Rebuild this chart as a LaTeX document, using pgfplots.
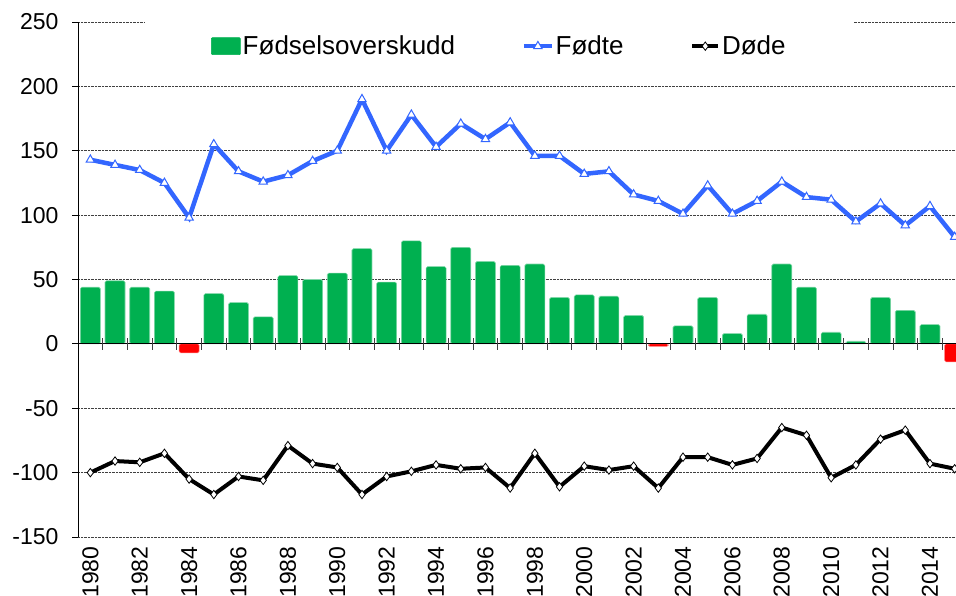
\documentclass[border=0pt]{standalone}
\usepackage{pgfplots}
\pgfplotsset{compat=1.18}
\usepackage{fontspec}
\setmainfont{Liberation Sans}
\definecolor{barg}{RGB}{0,176,80}
\definecolor{barr}{RGB}{255,0,0}
\definecolor{lblue}{RGB}{51,102,255}
\begin{document}
\begin{tikzpicture}[x=1pt,y=1pt]
\begin{axis}[
  at={(0pt,0pt)}, anchor=south west,
  scale only axis, width=889pt, height=515pt,
  xmin=1979.5, xmax=2015.5, ymin=-150, ymax=250,
  ytick={-150,-100,...,250},
  xtick={1980,1982,...,2014},
  axis y line*=left, axis x line*=bottom,
  x axis line style={draw=none},
  y axis line style={black, line width=0.8pt, -},
  xtick style={draw=none},
  ytick style={black, line width=0.8pt},
  tick align=outside, major tick length=6pt,
  ymajorgrids,
  grid style={densely dotted, black!75, line width=0.9pt},
  ticklabel style={font=\fontsize{23}{27}\selectfont},
  xticklabel style={rotate=90, anchor=east},
  xticklabel shift=0pt,
  yticklabel style={xshift=-10pt},
  /pgf/number format/assume math mode=true,
  /pgf/number format/1000 sep={},
  legend columns=3,
  legend style={at={(0.474,0.953)}, anchor=center, draw=none, fill=white,
    inner xsep=66pt, inner ysep=14pt, font=\fontsize{26}{30}\selectfont,
    /tikz/every even column/.append style={column sep=65pt}},
]
\addplot[ybar, bar width=20pt, fill=barg, draw=barg!50!white, line width=0.6pt,
  rounded corners=1.5pt,
  legend image code/.code={\fill[barg, rounded corners=1pt] (0pt,-8.5pt) rectangle (29pt,8.5pt);}]
coordinates {
(1980,44) (1981,49) (1982,44) (1983,41) (1985,39) (1986,32) (1987,21) (1988,53)
(1989,50) (1990,55) (1991,74) (1992,48) (1993,80) (1994,60) (1995,75) (1996,64)
(1997,61) (1998,62) (1999,36) (2000,38) (2001,37) (2002,22) (2004,14) (2005,36)
(2006,8) (2007,23) (2008,62) (2009,44) (2010,9) (2011,2) (2012,36) (2013,26) (2014,15)
};
\addlegendentry{Fødselsoverskudd}
\addplot[ybar, bar width=20pt, fill=barr, draw=barr!50!white, line width=0.6pt,
  rounded corners=1.5pt, forget plot]
coordinates {(1984,-7) (2003,-2) (2015,-14)};
\draw[black, line width=0.8pt] (axis cs:1979.5,0) -- (axis cs:2015.5,0);
\pgfplotsinvokeforeach{1980.5,1981.5,...,2014.5}{
  \draw[black!75, line width=0.8pt] (axis cs:#1,0) ++(0pt,-6pt) -- ++(0pt,12pt);
}
\addplot[lblue, line width=4.5pt, mark=triangle*, mark size=4.8pt,
  mark options={solid, fill=white, draw=lblue, line width=1pt},
  legend image code/.code={\draw[mark repeat=2,mark phase=2,line width=3.5pt] plot coordinates {(0pt,0pt) (14pt,0pt) (28pt,0pt)};}]
coordinates {
(1980,143) (1981,139) (1982,135) (1983,125) (1984,98) (1985,155) (1986,134) (1987,126)
(1988,131) (1989,142) (1990,150) (1991,190) (1992,150) (1993,178) (1994,153) (1995,171)
(1996,159) (1997,172) (1998,146) (1999,146) (2000,132) (2001,134) (2002,116) (2003,111)
(2004,101) (2005,123) (2006,101) (2007,111) (2008,126) (2009,114) (2010,112) (2011,95)
(2012,109) (2013,92) (2014,107) (2015,83)
};
\addlegendentry{Fødte}
\addplot[black, line width=4pt, mark=diamond*, mark size=4.2pt,
  mark options={solid, fill=white, draw=black, line width=0.8pt},
  legend image code/.code={\draw[mark repeat=2,mark phase=2,line width=3.5pt] plot coordinates {(0pt,0pt) (13pt,0pt) (26pt,0pt)};}]
coordinates {
(1980,-100) (1981,-91) (1982,-92) (1983,-85) (1984,-105) (1985,-117) (1986,-103) (1987,-106)
(1988,-79) (1989,-93) (1990,-96) (1991,-117) (1992,-103) (1993,-99) (1994,-94) (1995,-97)
(1996,-96) (1997,-112) (1998,-85) (1999,-111) (2000,-95) (2001,-98) (2002,-95) (2003,-112)
(2004,-88) (2005,-88) (2006,-94) (2007,-89) (2008,-65) (2009,-71) (2010,-104) (2011,-94)
(2012,-74) (2013,-67) (2014,-93) (2015,-97)
};
\addlegendentry{Døde}
\end{axis}
\pgfresetboundingbox
\useasboundingbox (-78pt,-59pt) rectangle (878pt,537pt);
\end{tikzpicture}
\end{document}
